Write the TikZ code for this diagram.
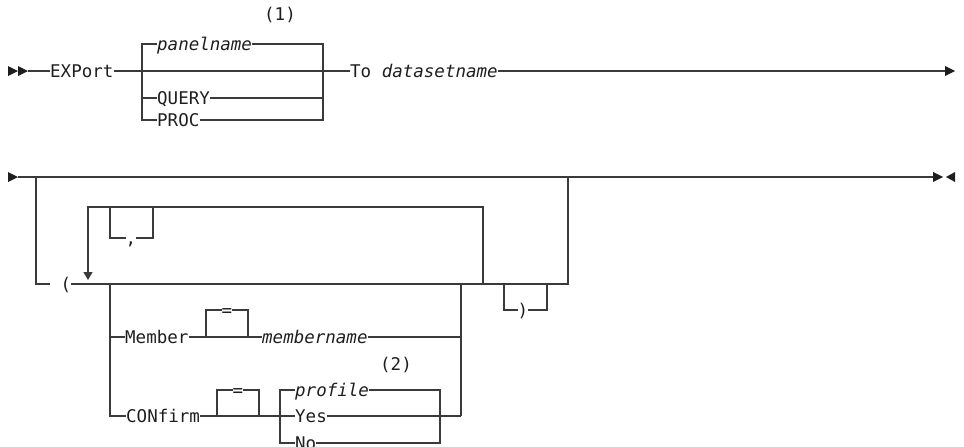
\documentclass[tikz,border=0pt]{standalone}
\usepackage{fontspec}
\setmainfont{DejaVu Sans Mono}[ItalicFont={DejaVu Sans Mono Oblique}]
\usetikzlibrary{arrows.meta}
\definecolor{txtc}{HTML}{1E1E1E}
\definecolor{linec}{HTML}{3A3A3A}
\begin{document}
\begin{tikzpicture}[x=1pt,y=-1pt,
  tx/.style={inner sep=0pt, text height=12.6pt, text depth=0pt,
    font=\fontsize{17.5}{20}\selectfont, text=txtc},
  ln/.style={line width=1.3pt, draw=linec, line join=miter},
  mk/.style={fill=txtc, draw=none}]
\useasboundingbox (0,0) rectangle (964,447);

% ---------- row 1 ----------
\coordinate (s1) at (28,71);
\node[tx,anchor=west] (ex) at (50,71) {EXPort};
\coordinate (j1) at (142,71);
\coordinate (j2) at (323,71);
\node[tx,anchor=west] (pn) at (157,44) {\textit{panelname}};
\node[tx,anchor=west] (qu) at (157,98) {QUERY};
\node[tx,anchor=west] (pr) at (157,120) {PROC};
\node[tx] (n1) at (280,14) {(1)};
\node[tx,anchor=west] (to) at (350,71) {To \textit{datasetname}};
\coordinate (e1) at (945,71);

\fill[mk] (8,66) -- (18,71) -- (8,76) -- cycle;
\fill[mk] (18,66) -- (28,71) -- (18,76) -- cycle;
\draw[ln] (s1) -- (ex.west);
\draw[ln] (ex.east) -- (j1) -- (j2) -- (to.west);
\draw[ln] (j1) |- (pn.west);
\draw[ln] (j1) |- (qu.west);
\draw[ln] (j1) |- (pr.west);
\draw[ln] (pn.east) -| (j2);
\draw[ln] (qu.east) -| (j2);
\draw[ln] (pr.east) -| (j2);
\draw[ln] (to.east) -- (e1);
\fill[mk] (e1) ++(0,-5) -- ++(10,5) -- ++(-10,5) -- cycle;

% ---------- row 2 ----------
\coordinate (s2) at (18,177);
\coordinate (o1) at (36,177);
\coordinate (o2) at (568,177);
\coordinate (e2) at (933,177);
\fill[mk] (8,172) -- (18,177) -- (8,182) -- cycle;
\draw[ln] (s2) -- (o1) -- (o2) -- (e2);
\fill[mk] (e2) ++(0,-5) -- ++(10,5) -- ++(-10,5) -- cycle;
\fill[mk] (955,172) -- (946,177) -- (955,182) -- cycle;

\coordinate (lpa) at (50,284);
\node[tx] (lp) at (66,284) {(};
\coordinate (g1) at (110,284);
\coordinate (g2) at (461,284);
\coordinate (rr) at (483,284);
\coordinate (b1) at (504,284);
\coordinate (b2) at (547,284);
\coordinate (o2b) at (568,284);
\draw[ln] (o1) |- (lpa);
\draw[ln] (lp.east) -- (g1) -- (g2) -- (rr) -- (b1) -- (b2) -- (o2b) -- (o2);

% repeat loop
\coordinate (rtl) at (88,207);
\coordinate (ra) at (88,280);
\draw[ln,-{Triangle[width=9pt,length=8pt]}] (rr) |- (rtl) -- (ra);
\coordinate (c1) at (110,207);
\coordinate (c2) at (153,207);
\node[tx] (cm) at (131,238) {,};
\draw[ln] (c1) |- (cm.west);
\draw[ln] (cm.east) -| (c2);

% choice group
\node[tx,anchor=west] (mb) at (125,337) {Member};
\node[tx,anchor=west] (cf) at (126,416) {CONfirm};
\draw[ln] (g1) |- (mb.west);
\draw[ln] (g1) |- (cf.west);
\coordinate (q1a) at (206,337);
\coordinate (q1b) at (248,337);
\node[tx] (eq1) at (227,310) {=};
\node[tx,anchor=west] (mn) at (262,337) {\textit{membername}};
\draw[ln] (mb.east) -- (q1a) -- (q1b) -- (mn.west);
\draw[ln] (q1a) |- (eq1.west);
\draw[ln] (eq1.east) -| (q1b);
\coordinate (g2b) at (461,416);
\draw[ln] (mn.east) -| (g2);
\draw[ln] (g2) -- (g2b);

\coordinate (q2a) at (217,416);
\coordinate (q2b) at (259,416);
\node[tx] (eq2) at (238,390) {=};
\draw[ln] (q2a) |- (eq2.west);
\draw[ln] (eq2.east) -| (q2b);
\coordinate (k1) at (280,416);
\coordinate (k2) at (440,416);
\node[tx,anchor=west] (pf) at (295,390) {\textit{profile}};
\node[tx,anchor=west] (ys) at (295,416) {Yes};
\node[tx,anchor=west] (no) at (295,443) {No};
\node[tx] (n2) at (396,364) {(2)};
\draw[ln] (cf.east) -- (q2a) -- (q2b) -- (k1) -- (ys.west);
\draw[ln] (k1) |- (pf.west);
\draw[ln] (k1) |- (no.west);
\draw[ln] (pf.east) -| (k2);
\draw[ln] (no.east) -| (k2);
\draw[ln] (ys.east) -- (k2) -- (g2b);

% closing paren bypass
\node[tx] (rp) at (523,310) {)};
\draw[ln] (b1) |- (rp.west);
\draw[ln] (rp.east) -| (b2);
\end{tikzpicture}
\end{document}
